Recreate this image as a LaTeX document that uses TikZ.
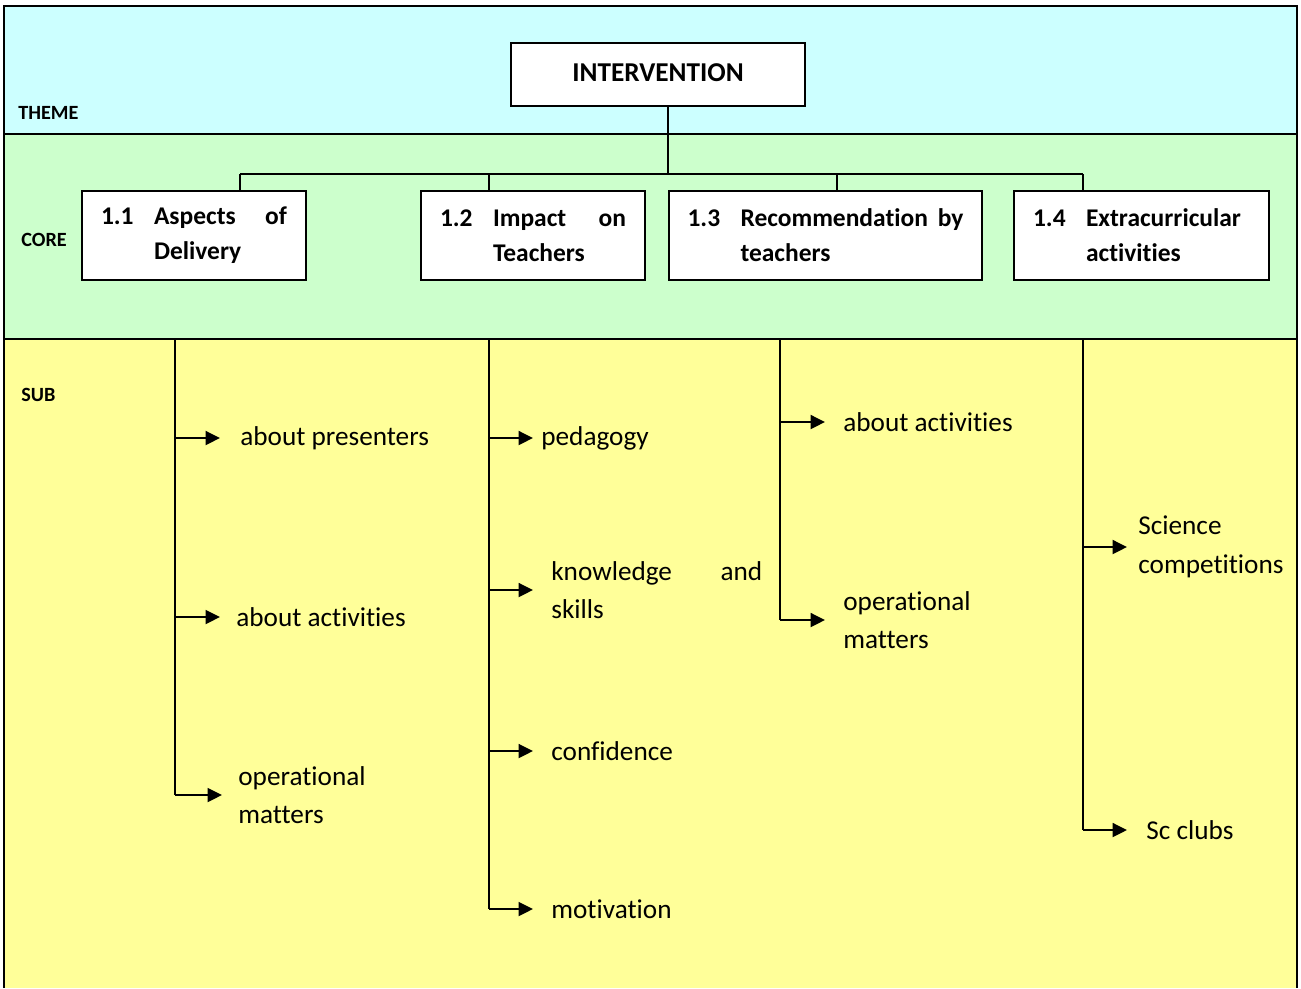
\documentclass[tikz,border=0pt]{standalone}
\usepackage{fontspec}
\setmainfont{Carlito}[Ligatures=NoCommon]
\usepackage{color}
\definecolor{themecyan}{RGB}{204,255,255}
\definecolor{coregreen}{RGB}{204,255,204}
\definecolor{subyellow}{RGB}{255,255,153}
\usetikzlibrary{arrows.meta}
\usetikzlibrary{positioning,calc}
\tikzstyle{rowlabel} = [anchor=west, inner sep=0pt, font=\fontsize{11.5}{14}\selectfont\bfseries]
\tikzstyle{theme} = [draw, fill=white, line width=1.1pt, inner sep=0pt, minimum width=5.88cm, minimum height=1.26cm, font=\fontsize{15.5}{19.8}\selectfont\bfseries]
\tikzstyle{core} = [theme, minimum height=1.78cm, align=left, font=\fontsize{14.5}{19.8}\selectfont\bfseries]
\tikzstyle{sub} = [anchor=west, inner sep=0pt, align=left, font=\fontsize{15.5}{22}\selectfont]
\tikzstyle{link} = [-, draw=black, line width=1.1pt]
\tikzstyle{arrow_sub} = [-{Triangle[length=0.29cm,width=0.28cm]}, draw=black, line width=1.1pt, shorten >=0.36cm]
\newcommand{\coretext}[4]{\makebox[1.06cm][l]{#1}\makebox[#4][s]{#2}\\\hspace*{1.06cm}#3}

\begin{document}
\begin{tikzpicture}[x=0.02cm, y=-0.02cm]
      \useasboundingbox (0,0) rectangle (1301,988);

      % Bands
      \fill[themecyan] (4,6) rectangle (1297,134);
      \fill[coregreen] (4,134) rectangle (1297,339);
      \fill[subyellow] (4,339) rectangle (1297,988);
      \draw[link] (4,988) -- (4,6) -- (1297,6) -- (1297,988);
      \draw[link] (4,134) -- (1297,134);
      \draw[link] (4,339) -- (1297,339);
      \node[rowlabel] (themelbl) at (18,113) {THEME};
      \node[rowlabel] (corelbl)  at (21,240) {CORE};
      \node[rowlabel] (sublbl)   at (21,395) {SUB};

      % Theme and core
      \node[theme] (intervention) at (658,74.5) {\raisebox{0.08cm}{INTERVENTION}};
      \node[core, minimum width=4.48cm] (delivery) at (194,235.5)
            {\coretext{1.1}{Aspects of}{Delivery}{2.66cm}};
      \node[core, minimum width=4.48cm] (impact) at (533,235.5)
            {\coretext{1.2}{Impact on}{Teachers}{2.66cm}};
      \node[core, minimum width=6.26cm] (recommend) at (825.5,235.5)
            {\coretext{1.3}{Recommendation by}{teachers}{4.46cm}};
      \node[core, minimum width=5.1cm] (extra) at (1141.5,235.5)
            {\coretext{1.4}{Extracurricular\hfill}{activities}{3.28cm}};

      % Core links
      \coordinate (bar) at (668,174);
      \coordinate (d1) at (240,174);
      \coordinate (d2) at (489,174);
      \coordinate (d3) at (837,174);
      \coordinate (d4) at (1083,174);
      \path[link] (bar |- intervention.south) -- (bar);
      \path[link] (d1) -- (d4);
      \path[link] (d1) -- (d1 |- delivery.north);
      \path[link] (d2) -- (d2 |- impact.north);
      \path[link] (d3) -- (d3 |- recommend.north);
      \path[link] (d4) -- (d4 |- extra.north);

      % Sub themes
      \node[sub] (presenters) at (240,438) {about presenters};
      \node[sub] (activities1) at (236,617) {about activities};
      \node[sub] (operational1) at (238,795) {operational\\matters};
      \node[sub] (pedagogy) at (541,438) {pedagogy};
      \node[sub] (knowledge) at (551,590) {\makebox[4.22cm][s]{knowledge and}\\skills};
      \node[sub] (confidence) at (551,751) {confidence};
      \node[sub] (motivation) at (551,909) {motivation};
      \node[sub] (activities3) at (843,422) {about activities};
      \node[sub] (operational3) at (843,620) {operational\\matters};
      \node[sub] (science) at (1138,547) {Science\\competitions};
      \node[sub] (clubs) at (1146,830) {Sc clubs};

      % Trunks
      \coordinate (t1) at (175,339);
      \coordinate (t2) at (489,339);
      \coordinate (t3) at (780,339);
      \coordinate (t4) at (1083,339);
      \path[link] (t1) -- (t1 |- operational1.west);
      \path[link] (t2) -- (t2 |- motivation.west);
      \path[link] (t3) -- (t3 |- operational3.west);
      \path[link] (t4) -- (t4 |- clubs.west);

      % Sub arrows
      \path[arrow_sub, shorten >=0.4cm] (t1 |- presenters.west) -- (presenters.west);
      \path[arrow_sub, shorten >=0.32cm] (t1 |- activities1.west) -- (activities1.west);
      \path[arrow_sub, shorten >=0.32cm] (t1 |- operational1.west) -- (operational1.west);
      \path[arrow_sub, shorten >=0.16cm] (t2 |- pedagogy.west) -- (pedagogy.west);
      \path[arrow_sub] (t2 |- knowledge.west) -- (knowledge.west);
      \path[arrow_sub] (t2 |- confidence.west) -- (confidence.west);
      \path[arrow_sub] (t2 |- motivation.west) -- (motivation.west);
      \path[arrow_sub] (t3 |- activities3.west) -- (activities3.west);
      \path[arrow_sub] (t3 |- operational3.west) -- (operational3.west);
      \path[arrow_sub, shorten >=0.22cm] (t4 |- science.west) -- (science.west);
      \path[arrow_sub, shorten >=0.38cm] (t4 |- clubs.west) -- (clubs.west);

    \end{tikzpicture}
\end{document}
